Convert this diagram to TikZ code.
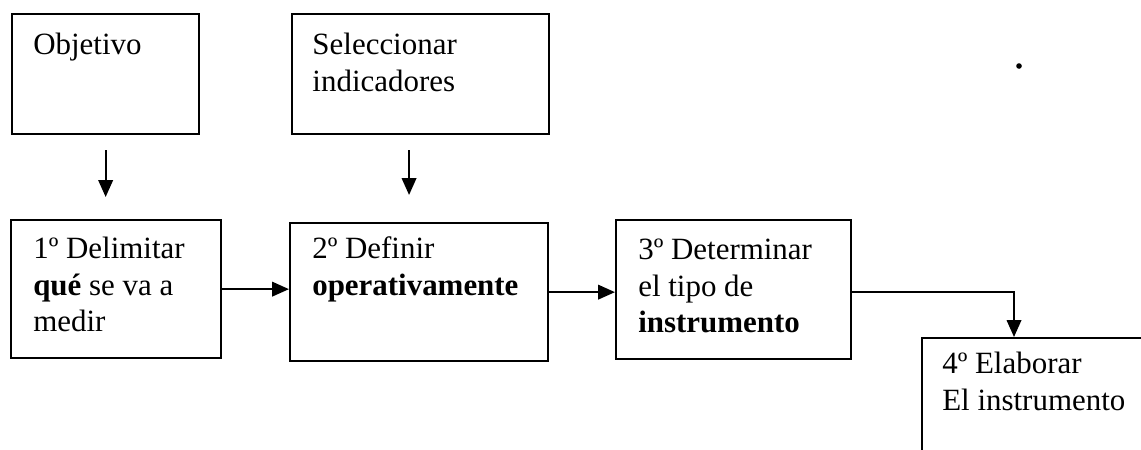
\documentclass[tikz,border=0pt]{standalone}
\usepackage{fontspec}
\setmainfont{Liberation Serif}
\usetikzlibrary{positioning,arrows.meta}

\tikzset{
    caja/.style={draw, line width=1.6pt, inner sep=0pt, anchor=north west},
    texto/.style={align=left, inner sep=0pt, font=\fontsize{22}{26.2}\selectfont},
    flecha/.style={line width=1.5pt, -{Triangle[width=0.36cm,length=0.42cm]}}
}

\begin{document}
\begin{tikzpicture}[x=0.025cm, y=0.025cm]

    \useasboundingbox (0,0) rectangle (1141,-449);
    \clip (0,0) rectangle (1141,-449);

    % top boxes
    \node[caja, minimum width=4.675cm, minimum height=3cm] (objetivo) at (11,-13) {};
    \node[caja, minimum width=6.425cm, minimum height=3cm] (indic) at (291,-13) {};
    \node[texto, below right=0.38cm and 0.55cm of objetivo.north west] (tobjetivo) {\strut Objetivo};
    \node[texto, below right=0.38cm and 0.53cm of indic.north west] (tindic) {\strut Seleccionar\\indicadores};

    % steps
    \node[caja, minimum width=5.25cm, minimum height=3.45cm] (paso1) at (10,-219) {};
    \node[caja, minimum width=6.45cm, minimum height=3.45cm] (paso2) at (289,-222) {};
    \node[caja, minimum width=5.875cm, minimum height=3.475cm] (paso3) at (615,-219) {};
    \node[caja, minimum width=8cm, minimum height=6cm] (paso4) at (921,-337) {};
    \node[texto, below right=0.33cm and 0.575cm of paso1.north west] (tpaso1) {\strut 1º Delimitar\\\textbf{qué} se va a\\medir};
    \node[texto, below right=0.255cm and 0.575cm of paso2.north west] (tpaso2) {\strut 2º Definir\\\textbf{operativamente}};
    \node[texto, below right=0.355cm and 0.575cm of paso3.north west] (tpaso3) {\strut 3º Determinar\\el tipo de\\\textbf{instrumento}};
    \node[texto, below right=0.255cm and 0.525cm of paso4.north west] (tpaso4) {\strut 4º Elaborar\\El instrumento};
    \coordinate (entra4) at (1014,-337);

    % arrows
    \draw[flecha, shorten <=0.375cm, shorten >=0.55cm] (objetivo.south) -- (objetivo.south |- paso1.north);
    \draw[flecha, shorten <=0.375cm, shorten >=0.675cm] ([xshift=-0.29cm]indic.south) -- ([xshift=-0.29cm]indic.south |- paso2.north);
    \draw[flecha] (paso1.east) -- (paso1.east -| paso2.west);
    \draw[flecha] (paso2.east) -- (paso2.east -| paso3.west);
    \draw[flecha] ([yshift=-0.06cm]paso3.east) -| (entra4);

    \fill (1019,-66) circle (0.07cm);

\end{tikzpicture}
\end{document}
